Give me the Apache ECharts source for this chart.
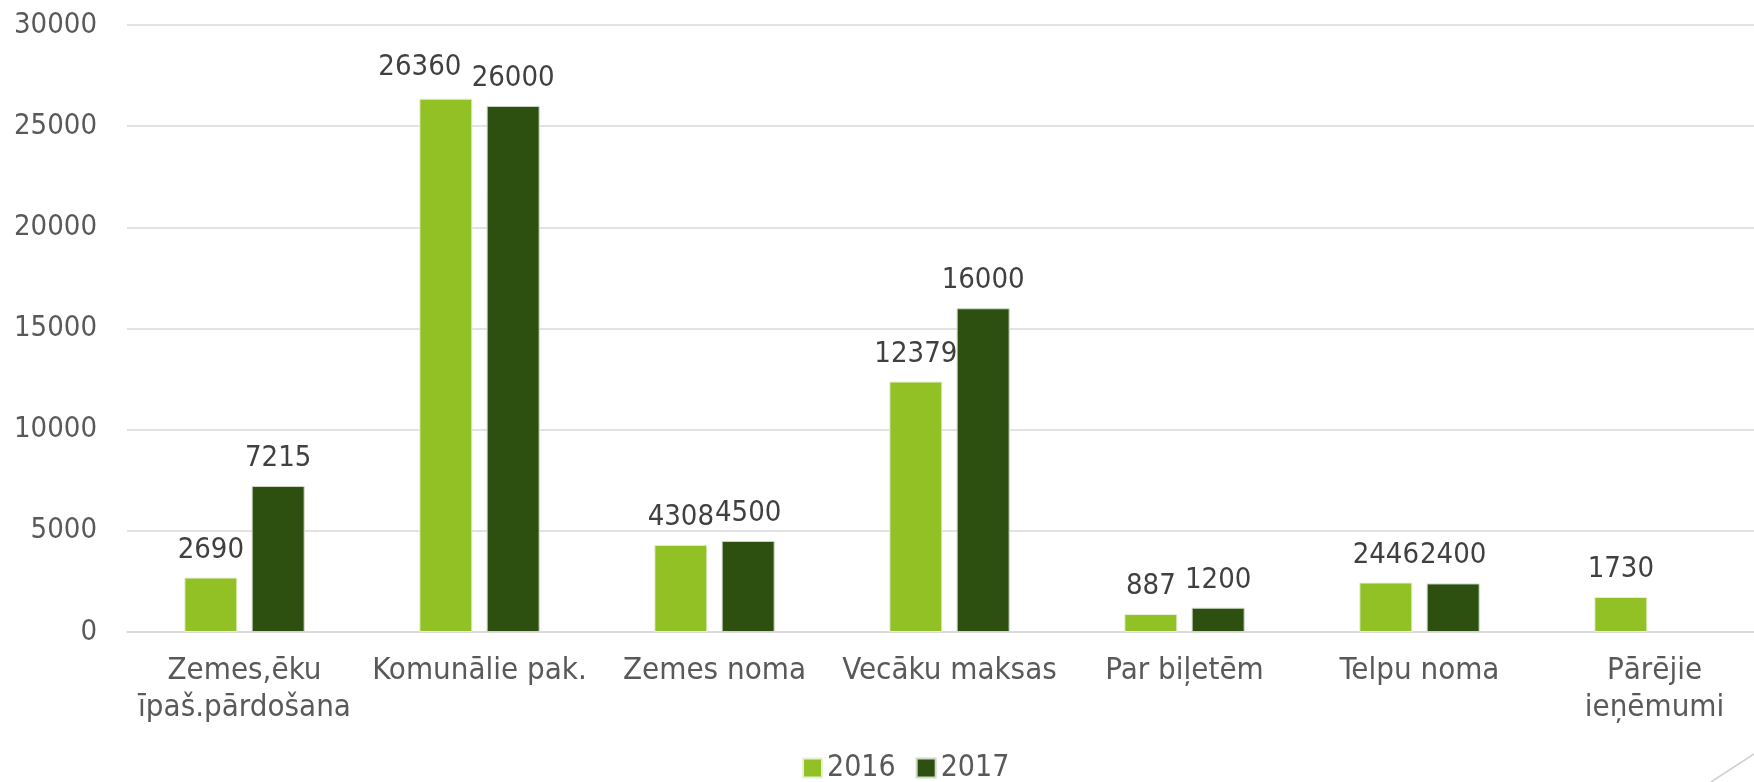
<!DOCTYPE html>
<html>
<head>
<meta charset="utf-8">
<script src="https://cdn.jsdelivr.net/npm/echarts@6/dist/echarts.min.js"></script>
<style>
    html, body { margin: 0; padding: 0; background: #fff; }
    #chart { width: 1754px; height: 782px; }
</style>
</head>
<body>
<div id="chart"></div>
<script>
    var categories = ['Zemes,ēku\nīpaš.pārdošana', 'Komunālie pak.', 'Zemes noma', 'Vecāku maksas', 'Par biļetēm', 'Telpu noma', 'Pārējie\nieņēmumi'];
    var values2016 = [2690, 26360, 4308, 12379, 887, 2446, 1730];
    var values2017 = [7215, 26000, 4500, 16000, 1200, 2400, '-'];
    var seriesNames = ['2016', '2017'];

    var font = '"DejaVu Sans Condensed", "DejaVu Sans", sans-serif';
    var chart = echarts.init(document.getElementById('chart'));

    var labelStyle = {
        show: true,
        position: 'top',
        distance: 13,
        color: '#404040',
        fontSize: 29,
        fontFamily: font
    };

    // the 26360 label sits a little left of its bar in the original
    var data2016 = values2016.map(function (v, i) {
        return i === 1 ? {value: v, label: {offset: [-26, -4]}} : v;
    });

    chart.setOption({
        animation: false,
        color: ['#92C125', '#2D5011'],
        grid: {left: 127, top: 25, width: 1645, height: 607, outerBoundsMode: 'none', containLabel: false},
        legend: {
            data: seriesNames,
            left: 797,
            top: 748,
            itemWidth: 19,
            itemHeight: 19,
            itemGap: 20,
            icon: 'rect',
            textStyle: {color: '#595959', fontSize: 30, fontFamily: font}
        },
        xAxis: {
            type: 'category',
            data: categories,
            axisLine: {lineStyle: {color: '#D9D9D9', width: 1.5}},
            axisTick: {show: false},
            axisLabel: {
                interval: 0,
                margin: 20,
                color: '#595959',
                fontSize: 31,
                lineHeight: 37,
                fontFamily: font
            }
        },
        yAxis: {
            type: 'value',
            min: 0,
            max: 30000,
            interval: 5000,
            axisLine: {show: false},
            axisTick: {show: false},
            splitLine: {lineStyle: {color: '#D9D9D9', width: 1.5}},
            axisLabel: {
                margin: 30,
                color: '#595959',
                fontSize: 29,
                fontFamily: font,
                formatter: function (v) { return String(v); }
            }
        },
        series: [
            {
                name: seriesNames[0],
                type: 'bar',
                data: data2016,
                barWidth: 53,
                barGap: '27%',
                itemStyle: {borderColor: '#E8F0D8', borderWidth: 1},
                label: labelStyle
            },
            {
                name: seriesNames[1],
                type: 'bar',
                data: values2017,
                barWidth: 53,
                barGap: '27%',
                itemStyle: {borderColor: '#CFD8C8', borderWidth: 1},
                label: labelStyle
            }
        ],
        graphic: [{
            type: 'line',
            shape: {x1: 1754, y1: 754, x2: 1711, y2: 782},
            style: {stroke: '#D0D0D0', lineWidth: 1.5}
        }]
    });
</script>
</body>
</html>
